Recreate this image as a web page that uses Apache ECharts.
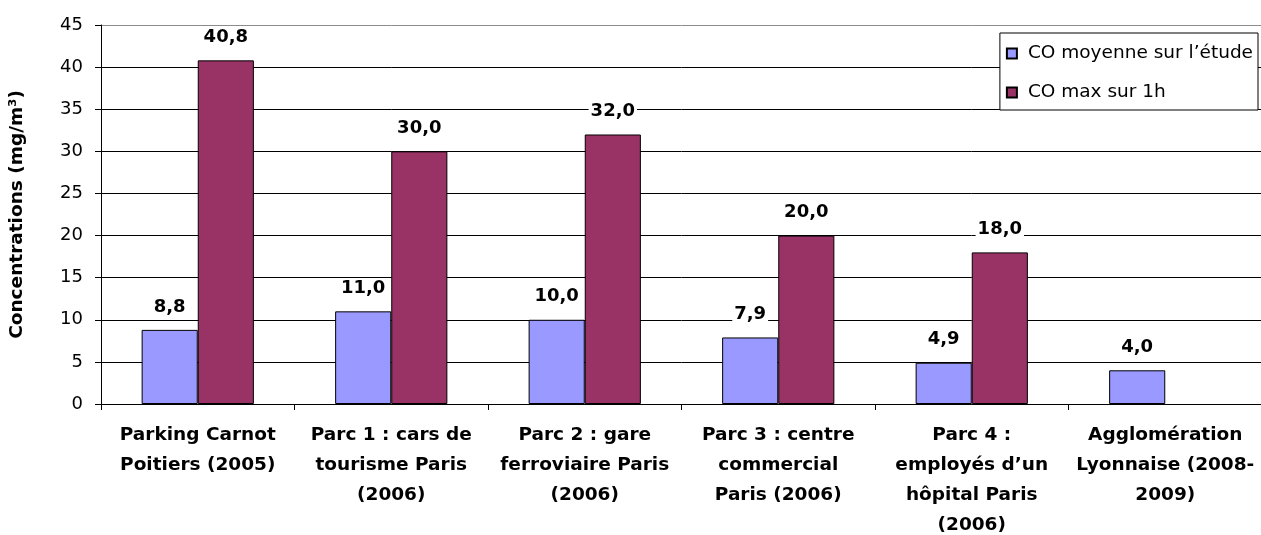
<!DOCTYPE html>
<html>
<head>
<meta charset="utf-8">
<script src="https://cdn.jsdelivr.net/npm/echarts@6/dist/echarts.min.js"></script>
<style>html,body{margin:0;padding:0;background:#fff}#c{width:1261px;height:535px}</style>
</head>
<body>
<div id="c"></div>
<script>
const categories = [
  "Parking Carnot\nPoitiers (2005)",
  "Parc 1 : cars de\ntourisme Paris\n(2006)",
  "Parc 2 : gare\nferroviaire Paris\n(2006)",
  "Parc 3 : centre\ncommercial\nParis (2006)",
  "Parc 4 :\nemployés d’un\nhôpital Paris\n(2006)",
  "Agglomération\nLyonnaise (2008-\n2009)"
];
const seriesNames = ["CO moyenne sur l’étude", "CO max sur 1h"];
const coMoyenne = [8.8, 11.0, 10.0, 7.9, 4.9, 4.0];
const coMax = [40.8, 30.0, 32.0, 20.0, 18.0, null];
const yTicks = { min: 0, max: 45, interval: 5 };

const FONT = "DejaVu Sans";
const chart = echarts.init(document.getElementById('c'), null, { renderer: 'canvas' });
const labelCfg = {
  show: true, position: 'top', distance: 13,
  fontFamily: FONT, fontWeight: 'bold', fontSize: 18, color: '#000',
  backgroundColor: '#fff', padding: [1, 2],
  formatter: p => (p.value == null ? '' : p.value.toFixed(1).replace('.', ','))
};
const gridColors = [];
for (let v = yTicks.min; v <= yTicks.max; v += yTicks.interval) gridColors.push(v === yTicks.max ? '#8c8c8c' : '#000');

chart.setOption({
  animation: false,
  textStyle: { fontFamily: FONT },
  grid: { left: 101, right: -1, top: 25, bottom: 131, containLabel: false, outerBoundsMode: 'none' },
  legend: {
    orient: 'vertical', right: 3, top: 33,
    backgroundColor: '#fff', borderColor: '#000', borderWidth: 1,
    padding: [11, 5, 8, 6], itemGap: 20, itemWidth: 10, itemHeight: 10,
    icon: 'rect',
    textStyle: { fontFamily: FONT, fontSize: 18.5, color: '#000', padding: [0, 0, 0, 6] },
    data: seriesNames
  },
  xAxis: {
    type: 'category', data: categories,
    axisLine: { lineStyle: { color: '#000', width: 1 } },
    axisTick: { show: true, length: 6, lineStyle: { color: '#000' } },
    axisLabel: {
      interval: 0, margin: 16, lineHeight: 30, verticalAlign: 'top',
      fontFamily: FONT, fontWeight: 'bold', fontSize: 18.5, color: '#000', align: 'center'
    },
    splitLine: { show: false }
  },
  yAxis: {
    type: 'value', min: yTicks.min, max: yTicks.max, interval: yTicks.interval,
    name: 'Concentrations (mg/m³)', nameLocation: 'middle', nameGap: 74, nameRotate: 90,
    nameTextStyle: { fontFamily: FONT, fontWeight: 'bold', fontSize: 18.5, color: '#000' },
    axisLine: { show: true, lineStyle: { color: '#000', width: 1 } },
    axisTick: { show: true, length: 6, lineStyle: { color: '#000' } },
    axisLabel: { margin: 18, fontFamily: FONT, fontSize: 18, color: '#000' },
    splitLine: { show: true, lineStyle: { color: gridColors, width: 1 } }
  },
  series: [
    {
      name: seriesNames[0], type: 'bar', data: coMoyenne,
      barGap: '0%', barCategoryGap: '42%',
      itemStyle: { color: '#9999FF', borderColor: '#000', borderWidth: 1 },
      label: labelCfg
    },
    {
      name: seriesNames[1], type: 'bar', data: coMax,
      itemStyle: { color: '#993366', borderColor: '#000', borderWidth: 1 },
      label: labelCfg
    }
  ]
});
</script>
</body>
</html>
